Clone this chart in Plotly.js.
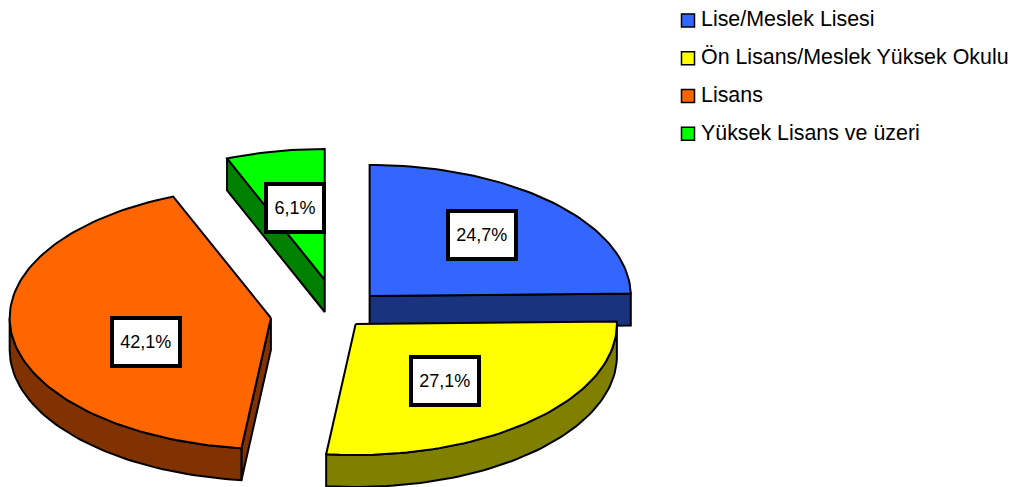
<!DOCTYPE html>
<html>
<head>
<meta charset="utf-8">
<script src="https://cdn.plot.ly/plotly-3.0.1.min.js"></script>
<style>html,body{margin:0;padding:0;background:#fff}#chart{width:1021px;height:487px}</style>
</head>
<body>
<div id="chart"></div>
<script>
// Education level shares, in percent
const categories = ['Lise/Meslek Lisesi', 'Ön Lisans/Meslek Yüksek Okulu', 'Lisans', 'Yüksek Lisans ve üzeri'];
const shares = [24.7, 27.1, 42.1, 6.1];
const shareLabels = ['24,7%', '27,1%', '42,1%', '6,1%'];

// Slice colours: top faces and the darker side walls
const faceColors = ['#3366ff', '#ffff00', '#ff6600', '#00ff00'];
const wallColors = ['#1a337f', '#808000', '#803300', '#008000'];

// Tilted-pie geometry, in the pixel units of the hidden axes
const pie = {cx: 320.7, cy: 310, rx: 262, ry: 131, depth: 32};
const explode = [[50, -14], [36, 14], [-49, 8], [5, -30]];
const labelCentres = [[483, 235], [446.5, 381], [146.5, 341.5], [295.5, 207.5]];

const total = shares.reduce((a, b) => a + b, 0);
const rad = d => d * Math.PI / 180;

function rimPoint(ox, oy, deg, drop) {
  return [ox + pie.rx * Math.sin(rad(deg)), oy - pie.ry * Math.cos(rad(deg)) + drop];
}
function arc(ox, oy, from, to, drop) {
  const n = Math.max(2, Math.ceil(Math.abs(to - from) / 1.5));
  const pts = [];
  for (let i = 0; i <= n; i++) pts.push(rimPoint(ox, oy, from + (to - from) * i / n, drop));
  return pts;
}
function polygon(pts, color) {
  return {
    type: 'scatter', mode: 'lines', fill: 'toself', fillcolor: color,
    x: pts.map(p => p[0]), y: pts.map(p => p[1]),
    line: {color: '#000', width: 2, shape: 'linear'},
    showlegend: false, hoverinfo: 'skip'
  };
}

const traces = [];
let start = 0;
shares.forEach((share, i) => {
  const end = start + share / total * 360;
  const ox = pie.cx + explode[i][0], oy = pie.cy + explode[i][1];

  // Radial side wall, when that cut faces the viewer
  const radial = deg => {
    const rim = rimPoint(ox, oy, deg, 0);
    traces.push(polygon([[ox, oy], rim, [rim[0], rim[1] + pie.depth], [ox, oy + pie.depth], [ox, oy]], wallColors[i]));
  };
  if (Math.sin(rad(start)) < -1e-6) radial(start);
  if (Math.sin(rad(end)) > 1e-6) radial(end);

  // Curved outer wall along the front half of the rim
  const a = Math.max(start, 90), b = Math.min(end, 270);
  if (b > a) {
    const top = arc(ox, oy, a, b, 0);
    const bottom = arc(ox, oy, b, a, pie.depth);
    traces.push(polygon(top.concat(bottom, [top[0]]), wallColors[i]));
  }

  // Top face
  traces.push(polygon([[ox, oy]].concat(arc(ox, oy, start, end, 0), [[ox, oy]]), faceColors[i]));
  start = end;
});

// Legend entries
categories.forEach((name, i) => {
  traces.push({
    type: 'scatter', mode: 'markers', x: [null], y: [null], name: name, legendgroup: name,
    marker: {symbol: 'square', size: 13, color: faceColors[i], line: {color: '#000', width: 1.5}},
    hoverinfo: 'skip'
  });
});

const font = 'Liberation Sans, Arial, sans-serif';
const layout = {
  width: 1021, height: 487,
  margin: {l: 0, r: 0, t: 0, b: 0},
  paper_bgcolor: '#fff', plot_bgcolor: '#fff',
  xaxis: {range: [0, 1021], visible: false, fixedrange: true},
  yaxis: {range: [487, 0], visible: false, fixedrange: true},
  showlegend: true,
  legend: {
    x: 670 / 1021, y: 1, xanchor: 'left', yanchor: 'top',
    font: {family: font, size: 21.4, color: '#000'},
    traceorder: 'grouped', tracegroupgap: 7,
    bgcolor: 'rgba(0,0,0,0)', borderwidth: 0
  },
  annotations: shareLabels.map((text, i) => ({
    x: labelCentres[i][0], y: labelCentres[i][1], xref: 'x', yref: 'y',
    text: text, showarrow: false,
    font: {family: font, size: 18, color: '#000'},
    bgcolor: '#fff', bordercolor: '#000', borderwidth: 4, borderpad: 0,
    width: i === 3 ? 54 : 63.5, height: 43.5, align: 'center', valign: 'middle'
  }))
};

Plotly.newPlot('chart', traces, layout, {displayModeBar: false, staticPlot: true}).then(() => {
  // Pull the legend text in close to its swatch, sitting slightly above its centre
  document.querySelectorAll('#chart .legendtext').forEach(t => {
    t.setAttribute('x', parseFloat(t.getAttribute('x')) - 7);
    t.setAttribute('y', parseFloat(t.getAttribute('y')) - 2.5);
  });
});
</script>
</body>
</html>
